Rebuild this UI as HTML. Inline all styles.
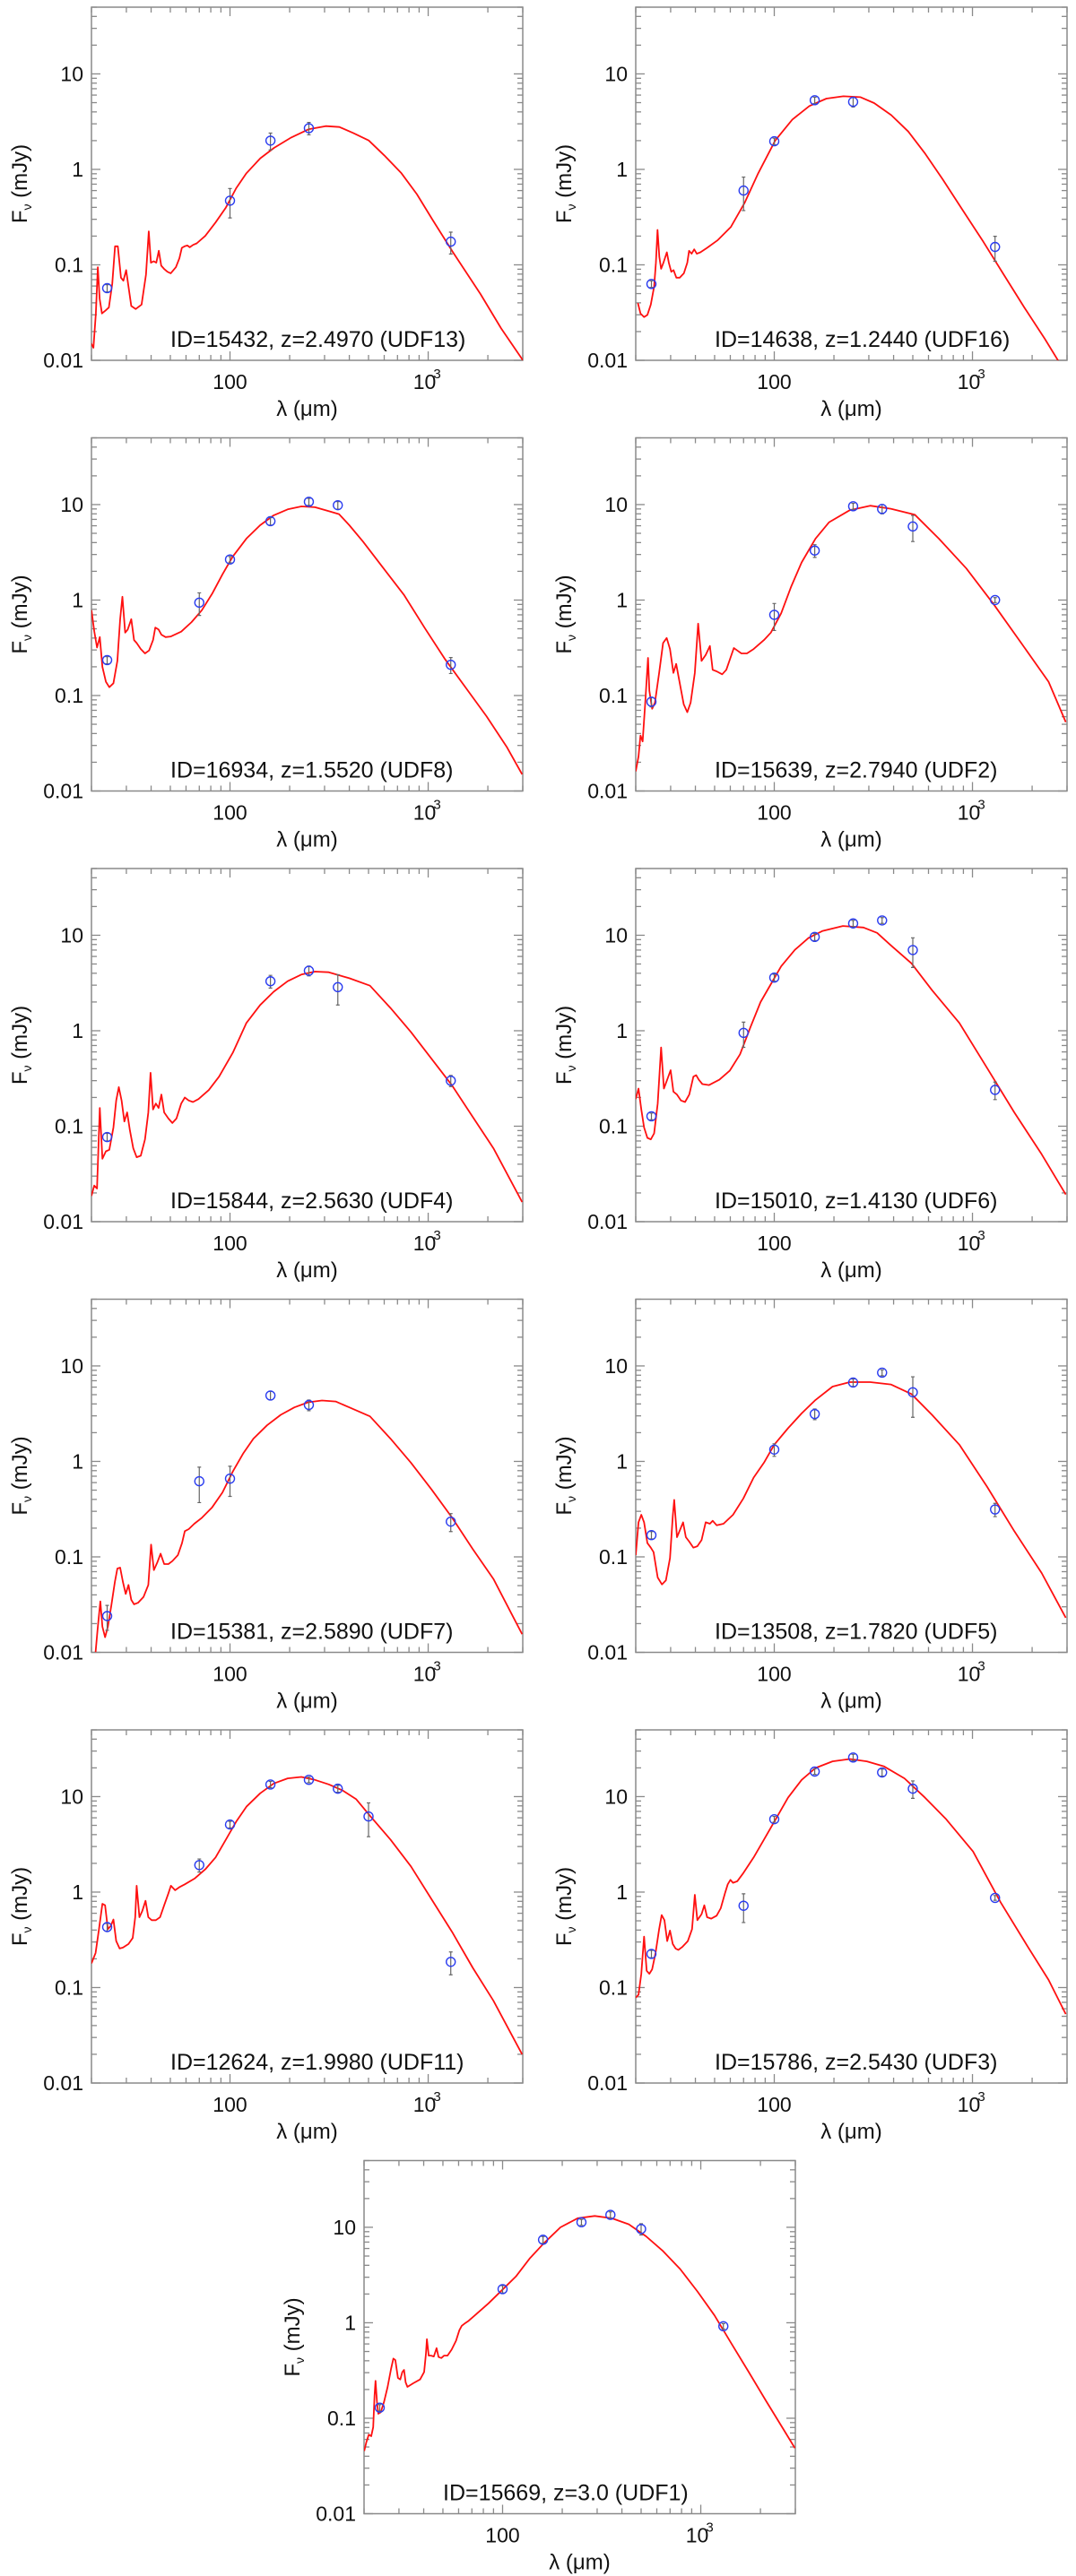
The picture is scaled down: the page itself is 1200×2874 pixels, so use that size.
<!DOCTYPE html>
<html><head><meta charset="utf-8">
<style>
html,body{margin:0;padding:0;background:#fff;}
svg{display:block;font-family:"Liberation Sans",Arial,sans-serif;}
</style></head>
<body>
<svg id="fig" width="1200" height="2874" viewBox="0 0 1200 2874" xmlns="http://www.w3.org/2000/svg">
<rect x="0" y="0" width="1200" height="2874" fill="#fff"/>
</svg>
<script>
// ---- panel metadata ----
const panelLabels = ["ID=15432, z=2.4970 (UDF13)","ID=14638, z=1.2440 (UDF16)","ID=16934, z=1.5520 (UDF8)","ID=15639, z=2.7940 (UDF2)","ID=15844, z=2.5630 (UDF4)","ID=15010, z=1.4130 (UDF6)","ID=15381, z=2.5890 (UDF7)","ID=13508, z=1.7820 (UDF5)","ID=12624, z=1.9980 (UDF11)","ID=15786, z=2.5430 (UDF3)","ID=15669, z=3.0 (UDF1)"];
const panelKeys = ["udf13","udf16","udf8","udf2","udf4","udf6","udf7","udf5","udf11","udf3","udf1"];
const xTickMajor = [100, 1000];
const xTickMinor = [20,30,40,50,60,70,80,90,200,300,400,500,600,700,800,900,2000,3000];
const yTickMajor = [0.01, 0.1, 1, 10];
const yTickLabels = ["0.01","0.1","1","10"];

// ---- observed photometry (lambda um, flux mJy, error mJy) ----
const lamUDF13=[24,100,160,250,1300];
const fluxUDF13=[0.057,0.47,2.0,2.7,0.175];
const errUDF13=[0.005,0.16,0.4,0.4,0.045];
const lamUDF16=[24,70,100,160,250,1300];
const fluxUDF16=[0.063,0.60,1.97,5.3,5.1,0.154];
const errUDF16=[0.005,0.23,0.15,0.4,0.6,0.045];
const lamUDF8=[24,70,100,160,250,350,1300];
const fluxUDF8=[0.235,0.94,2.66,6.7,10.7,9.85,0.21];
const errUDF8=[0.02,0.25,0.2,0.6,0.9,0.9,0.04];
const lamUDF2=[24,100,160,250,350,500,1300];
const fluxUDF2=[0.086,0.70,3.3,9.6,9.0,5.9,1.0];
const errUDF2=[0.01,0.22,0.5,0.7,1.0,1.8,0.06];
const lamUDF4=[24,160,250,350,1300];
const fluxUDF4=[0.077,3.3,4.25,2.86,0.30];
const errUDF4=[0.007,0.5,0.5,1.0,0.04];
const lamUDF6=[24,70,100,160,250,350,500,1300];
const fluxUDF6=[0.127,0.95,3.6,9.6,13.3,14.3,7.0,0.24];
const errUDF6=[0.01,0.28,0.3,0.8,1.0,1.0,2.4,0.05];
const lamUDF7=[24,70,100,160,250,1300];
const fluxUDF7=[0.024,0.62,0.66,4.9,3.9,0.234];
const errUDF7=[0.007,0.25,0.23,0.5,0.5,0.05];
const lamUDF5=[24,100,160,250,350,500,1300];
const fluxUDF5=[0.169,1.33,3.14,6.7,8.5,5.3,0.314];
const errUDF5=[0.015,0.2,0.4,0.6,0.6,2.4,0.05];
const lamUDF11=[24,70,100,160,250,350,500,1300];
const fluxUDF11=[0.43,1.92,5.1,13.4,15.0,12.1,6.2,0.186];
const errUDF11=[0.04,0.3,0.4,1.0,1.0,1.0,2.4,0.05];
const lamUDF3=[24,70,100,160,250,350,500,1300];
const fluxUDF3=[0.225,0.72,5.8,18.3,25.7,17.9,12.1,0.87];
const errUDF3=[0.02,0.24,0.4,1.2,2.0,1.5,2.5,0.05];
const lamUDF1=[24,100,160,250,350,500,1300];
const fluxUDF1=[0.129,2.25,7.4,11.3,13.5,9.6,0.92];
const errUDF1=[0.01,0.2,0.6,0.8,1.0,1.3,0.06];

// ---- model SED curves: [log10 lambda(um), log10 F(mJy)] ----
const curveUDF13=[[1.299,-1.822],[1.311,-1.869],[1.323,-1.509],[1.333,-1.025],[1.342,-1.353],[1.354,-1.509],[1.372,-1.478],[1.389,-1.447],[1.406,-1.197],[1.420,-0.806],[1.434,-0.806],[1.450,-1.134],[1.462,-1.166],[1.476,-1.056],[1.488,-1.228],[1.502,-1.431],[1.524,-1.463],[1.554,-1.416],[1.576,-1.103],[1.590,-0.650],[1.601,-0.978],[1.615,-0.963],[1.628,-0.978],[1.641,-0.853],[1.653,-1.009],[1.667,-1.041],[1.684,-1.072],[1.701,-1.088],[1.727,-1.025],[1.745,-0.931],[1.757,-0.822],[1.771,-0.806],[1.785,-0.797],[1.797,-0.816],[1.814,-0.791],[1.832,-0.775],[1.875,-0.697],[1.927,-0.556],[1.979,-0.400],[2.031,-0.197],[2.083,-0.041],[2.153,0.116],[2.222,0.225],[2.309,0.334],[2.396,0.419],[2.483,0.453],[2.552,0.444],[2.622,0.381],[2.700,0.303],[2.778,0.147],[2.865,-0.041],[2.943,-0.259],[3.021,-0.525],[3.125,-0.869],[3.264,-1.306],[3.368,-1.666],[3.481,-2.009]];
const curveUDF16=[[1.312,-1.400],[1.325,-1.509],[1.343,-1.547],[1.360,-1.525],[1.377,-1.416],[1.394,-1.228],[1.403,-0.978],[1.411,-0.634],[1.420,-0.916],[1.429,-1.041],[1.441,-0.978],[1.458,-0.869],[1.468,-0.978],[1.480,-1.072],[1.492,-1.056],[1.506,-1.134],[1.523,-1.134],[1.544,-1.088],[1.561,-0.978],[1.570,-0.853],[1.583,-0.884],[1.596,-0.838],[1.609,-0.884],[1.627,-0.869],[1.661,-0.822],[1.713,-0.744],[1.781,-0.603],[1.850,-0.353],[1.919,-0.041],[2.005,0.303],[2.091,0.522],[2.177,0.663],[2.263,0.741],[2.349,0.766],[2.435,0.756],[2.504,0.694],[2.590,0.569],[2.676,0.397],[2.762,0.163],[2.849,-0.103],[2.952,-0.431],[3.055,-0.759],[3.158,-1.103],[3.262,-1.447],[3.365,-1.775],[3.434,-2.009],[3.49,-2.2]];
const curveUDF8=[[1.301,-0.106],[1.315,-0.325],[1.329,-0.497],[1.343,-0.388],[1.356,-0.700],[1.374,-0.856],[1.391,-0.913],[1.412,-0.872],[1.432,-0.638],[1.446,-0.200],[1.457,0.034],[1.471,-0.341],[1.484,-0.309],[1.502,-0.200],[1.516,-0.419],[1.529,-0.450],[1.550,-0.513],[1.571,-0.559],[1.592,-0.528],[1.612,-0.419],[1.623,-0.288],[1.640,-0.309],[1.654,-0.363],[1.675,-0.388],[1.702,-0.381],[1.754,-0.331],[1.806,-0.231],[1.858,-0.106],[1.910,0.066],[1.962,0.269],[2.014,0.456],[2.083,0.644],[2.152,0.784],[2.221,0.888],[2.291,0.950],[2.360,0.981],[2.429,0.972],[2.498,0.931],[2.550,0.900],[2.602,0.784],[2.671,0.613],[2.775,0.331],[2.879,0.050],[2.983,-0.294],[3.086,-0.622],[3.190,-0.919],[3.294,-1.216],[3.398,-1.544],[3.474,-1.825]];
const curveUDF2=[[1.301,-1.794],[1.315,-1.638],[1.325,-1.419],[1.336,-1.481],[1.349,-1.075],[1.363,-0.606],[1.370,-0.950],[1.384,-1.138],[1.398,-1.075],[1.419,-0.763],[1.439,-0.450],[1.457,-0.397],[1.474,-0.513],[1.491,-0.763],[1.505,-0.669],[1.522,-0.856],[1.543,-1.091],[1.561,-1.175],[1.578,-1.075],[1.599,-0.763],[1.616,-0.247],[1.633,-0.638],[1.654,-0.575],[1.675,-0.481],[1.689,-0.731],[1.709,-0.747],[1.737,-0.778],[1.758,-0.731],[1.779,-0.606],[1.796,-0.503],[1.813,-0.528],[1.834,-0.559],[1.862,-0.559],[1.896,-0.513],[1.948,-0.419],[1.983,-0.341],[2.035,-0.138],[2.086,0.144],[2.138,0.394],[2.208,0.644],[2.277,0.816],[2.381,0.941],[2.484,0.988],[2.588,0.956],[2.709,0.894],[2.830,0.644],[2.969,0.331],[3.107,-0.044],[3.246,-0.450],[3.384,-0.856],[3.471,-1.278]];
const curveUDF4=[[1.301,-1.731],[1.315,-1.622],[1.329,-1.653],[1.343,-0.809],[1.356,-1.341],[1.374,-1.263],[1.391,-1.247],[1.412,-1.013],[1.426,-0.731],[1.439,-0.591],[1.453,-0.731],[1.467,-0.950],[1.481,-0.856],[1.495,-1.044],[1.512,-1.231],[1.529,-1.325],[1.550,-1.309],[1.571,-1.138],[1.588,-0.856],[1.599,-0.441],[1.612,-0.825],[1.626,-0.763],[1.640,-0.809],[1.654,-0.669],[1.668,-0.856],[1.689,-0.919],[1.709,-0.966],[1.730,-0.919],[1.754,-0.763],[1.772,-0.700],[1.792,-0.731],[1.813,-0.747],[1.841,-0.716],[1.893,-0.622],[1.945,-0.481],[2.014,-0.231],[2.083,0.081],[2.152,0.269],[2.221,0.409],[2.291,0.519],[2.360,0.588],[2.429,0.619],[2.498,0.613],[2.602,0.550],[2.706,0.472],[2.810,0.238],[2.913,-0.013],[3.017,-0.294],[3.121,-0.575],[3.225,-0.903],[3.329,-1.231],[3.474,-1.794]];
const curveUDF6=[[1.301,-0.716],[1.315,-0.606],[1.329,-0.825],[1.343,-1.013],[1.360,-1.122],[1.377,-1.138],[1.394,-1.075],[1.412,-0.763],[1.429,-0.175],[1.443,-0.606],[1.460,-0.513],[1.477,-0.413],[1.491,-0.638],[1.509,-0.669],[1.529,-0.731],[1.550,-0.747],[1.571,-0.669],[1.592,-0.481],[1.606,-0.466],[1.619,-0.513],[1.637,-0.559],[1.671,-0.569],[1.723,-0.513],[1.775,-0.419],[1.827,-0.247],[1.879,0.034],[1.931,0.300],[1.983,0.488],[2.035,0.675],[2.104,0.847],[2.173,0.972],[2.242,1.044],[2.346,1.097],[2.450,1.081],[2.519,1.025],[2.588,0.894],[2.692,0.706],[2.796,0.425],[2.934,0.081],[3.073,-0.388],[3.211,-0.856],[3.349,-1.294],[3.471,-1.716]];
const curveUDF7=[[1.322,-1.997],[1.332,-1.763],[1.346,-1.466],[1.356,-1.731],[1.370,-1.841],[1.384,-1.731],[1.401,-1.513],[1.419,-1.263],[1.432,-1.122],[1.446,-1.113],[1.460,-1.263],[1.474,-1.388],[1.488,-1.294],[1.502,-1.450],[1.516,-1.497],[1.536,-1.481],[1.564,-1.419],[1.588,-1.294],[1.602,-0.872],[1.616,-1.138],[1.633,-1.059],[1.650,-0.966],[1.668,-1.075],[1.689,-1.075],[1.709,-1.044],[1.737,-0.981],[1.758,-0.856],[1.772,-0.731],[1.792,-0.709],[1.820,-0.653],[1.858,-0.591],[1.910,-0.481],[1.962,-0.325],[2.014,-0.106],[2.066,0.081],[2.118,0.238],[2.187,0.378],[2.256,0.488],[2.325,0.566],[2.394,0.619],[2.464,0.638],[2.533,0.628],[2.602,0.566],[2.706,0.472],[2.810,0.238],[2.913,-0.013],[3.017,-0.294],[3.121,-0.591],[3.225,-0.919],[3.329,-1.231],[3.474,-1.809]];
const curveUDF5=[[1.301,-0.981],[1.315,-0.638],[1.329,-0.559],[1.343,-0.638],[1.360,-0.856],[1.377,-0.903],[1.391,-0.950],[1.412,-1.216],[1.433,-1.288],[1.453,-1.247],[1.474,-1.013],[1.488,-0.575],[1.495,-0.403],[1.509,-0.794],[1.522,-0.731],[1.540,-0.638],[1.554,-0.794],[1.571,-0.841],[1.592,-0.903],[1.612,-0.888],[1.633,-0.825],[1.654,-0.638],[1.675,-0.653],[1.689,-0.622],[1.709,-0.669],[1.744,-0.653],[1.792,-0.559],[1.844,-0.388],[1.896,-0.169],[1.948,-0.013],[2.000,0.175],[2.069,0.347],[2.138,0.503],[2.208,0.644],[2.294,0.784],[2.381,0.831],[2.484,0.831],[2.588,0.806],[2.692,0.706],[2.796,0.488],[2.934,0.175],[3.073,-0.263],[3.211,-0.731],[3.349,-1.169],[3.471,-1.638]];
const curveUDF11=[[1.301,-0.747],[1.322,-0.638],[1.339,-0.388],[1.356,-0.122],[1.370,-0.138],[1.384,-0.388],[1.398,-0.356],[1.412,-0.288],[1.426,-0.513],[1.443,-0.591],[1.460,-0.581],[1.488,-0.544],[1.509,-0.481],[1.522,-0.263],[1.529,0.066],[1.543,-0.263],[1.557,-0.200],[1.574,-0.091],[1.588,-0.263],[1.605,-0.294],[1.626,-0.294],[1.647,-0.263],[1.668,-0.138],[1.689,-0.013],[1.702,0.066],[1.723,0.019],[1.744,0.050],[1.772,0.081],[1.823,0.144],[1.875,0.238],[1.927,0.363],[1.979,0.550],[2.031,0.738],[2.083,0.894],[2.152,1.034],[2.221,1.138],[2.291,1.191],[2.360,1.206],[2.429,1.175],[2.498,1.128],[2.567,1.066],[2.637,0.972],[2.706,0.800],[2.810,0.550],[2.913,0.269],[3.017,-0.075],[3.121,-0.419],[3.225,-0.794],[3.329,-1.138],[3.474,-1.700]];
const curveUDF3=[[1.301,-1.106],[1.315,-1.075],[1.329,-0.856],[1.343,-0.466],[1.356,-0.825],[1.370,-0.856],[1.384,-0.809],[1.401,-0.638],[1.419,-0.388],[1.432,-0.241],[1.446,-0.294],[1.460,-0.513],[1.474,-0.403],[1.488,-0.544],[1.502,-0.591],[1.516,-0.606],[1.536,-0.575],[1.564,-0.513],[1.585,-0.388],[1.599,-0.028],[1.612,-0.294],[1.633,-0.231],[1.647,-0.138],[1.661,-0.263],[1.682,-0.278],[1.709,-0.247],[1.730,-0.169],[1.751,-0.013],[1.765,0.081],[1.779,0.128],[1.792,0.097],[1.813,0.113],[1.841,0.191],[1.896,0.363],[1.948,0.550],[2.000,0.738],[2.069,0.988],[2.138,1.175],[2.208,1.300],[2.294,1.369],[2.381,1.394],[2.467,1.369],[2.554,1.316],[2.657,1.191],[2.761,0.988],[2.865,0.769],[3.003,0.425],[3.142,-0.106],[3.280,-0.575],[3.384,-0.919],[3.471,-1.278]];
const curveUDF1=[[1.302,-1.344],[1.313,-1.250],[1.325,-1.172],[1.337,-1.188],[1.347,-1.094],[1.354,-0.766],[1.359,-0.609],[1.366,-0.828],[1.373,-0.953],[1.385,-0.938],[1.402,-0.828],[1.420,-0.672],[1.437,-0.484],[1.449,-0.375],[1.459,-0.391],[1.472,-0.578],[1.484,-0.594],[1.494,-0.516],[1.503,-0.494],[1.511,-0.625],[1.520,-0.672],[1.549,-0.634],[1.584,-0.594],[1.604,-0.516],[1.613,-0.328],[1.618,-0.172],[1.627,-0.344],[1.639,-0.344],[1.653,-0.353],[1.667,-0.266],[1.677,-0.359],[1.691,-0.369],[1.705,-0.344],[1.722,-0.344],[1.743,-0.281],[1.765,-0.188],[1.782,-0.078],[1.794,-0.031],[1.808,-0.009],[1.826,0.016],[1.860,0.078],[1.929,0.203],[1.998,0.344],[2.067,0.484],[2.136,0.672],[2.206,0.828],[2.292,1.000],[2.378,1.094],[2.465,1.119],[2.551,1.094],[2.637,1.031],[2.724,0.906],[2.810,0.750],[2.896,0.563],[2.983,0.328],[3.069,0.078],[3.155,-0.219],[3.242,-0.516],[3.328,-0.813],[3.415,-1.109],[3.475,-1.313]];

const curves=[curveUDF13,curveUDF16,curveUDF8,curveUDF2,curveUDF4,curveUDF6,curveUDF7,curveUDF5,curveUDF11,curveUDF3,curveUDF1];
const lams=[lamUDF13,lamUDF16,lamUDF8,lamUDF2,lamUDF4,lamUDF6,lamUDF7,lamUDF5,lamUDF11,lamUDF3,lamUDF1];
const fluxes=[fluxUDF13,fluxUDF16,fluxUDF8,fluxUDF2,fluxUDF4,fluxUDF6,fluxUDF7,fluxUDF5,fluxUDF11,fluxUDF3,fluxUDF1];
const errs=[errUDF13,errUDF16,errUDF8,errUDF2,errUDF4,errUDF6,errUDF7,errUDF5,errUDF11,errUDF3,errUDF1];

const XMIN=20, XMAX=3000, YMIN=0.01, YMAX=50;
const PW=481, PH=394;
const NS="http://www.w3.org/2000/svg";
const svg=document.getElementById('fig');
function mk(tag,attrs,parent){const e=document.createElementNS(NS,tag);for(const k in attrs)e.setAttribute(k,attrs[k]);(parent||svg).appendChild(e);return e;}

for(let p=0;p<11;p++){
  const L = p<10 ? (p%2===0?102:709) : 406;
  const T = 8 + 480.5*Math.floor(p/2);
  const B = T+PH, R = L+PW;
  const xs = lg => L + (lg-Math.log10(XMIN))/Math.log10(XMAX/XMIN)*PW;
  const ys = lg => B - (lg-Math.log10(YMIN))/Math.log10(YMAX/YMIN)*PH;
  const g=mk('g',{});
  
  
  const clipId='clip'+p;
  const cp=mk('clipPath',{id:clipId},g);
  mk('rect',{x:L,y:T,width:PW,height:PH},cp);
  // ticks
  const tg=mk('g',{stroke:'#8a8a8a','stroke-width':1.3},g);
  
  
  xTickMajor.forEach(v=>{const x=xs(Math.log10(v));mk('line',{x1:x,x2:x,y1:B,y2:B-10},tg);mk('line',{x1:x,x2:x,y1:T,y2:T+10},tg);});
  xTickMinor.forEach(v=>{const x=xs(Math.log10(v));mk('line',{x1:x,x2:x,y1:B,y2:B-6},tg);mk('line',{x1:x,x2:x,y1:T,y2:T+6},tg);});
  for(let d=-2;d<=1;d++){for(let m=1;m<=9;m++){const v=m*Math.pow(10,d);if(v>YMAX)break;const y=ys(Math.log10(v));const len=m===1?10:6;mk('line',{x1:L,x2:L+len,y1:y,y2:y},tg);mk('line',{x1:R,x2:R-len,y1:y,y2:y},tg);}}
  // frame
  const fr=mk('rect',{x:L,y:T,width:PW,height:PH,fill:'none',stroke:'#8a8a8a','stroke-width':1.5},g);
  
  
  // y tick labels
  yTickMajor.forEach((v,i)=>{const t=mk('text',{x:L-9,y:ys(Math.log10(v))+8,'text-anchor':'end','font-size':23,fill:'#111'},g);t.textContent=yTickLabels[i];
    
    });
  // x tick labels
  let t1=mk('text',{x:xs(2),y:B+32,'text-anchor':'middle','font-size':23,fill:'#111'},g);t1.textContent='100';
  
  
  let t2=mk('text',{x:xs(3)-4,y:B+32,'text-anchor':'middle','font-size':23,fill:'#111'},g);t2.textContent='10';
  
  
  let t3=mk('text',{x:xs(3)+10,y:B+20,'text-anchor':'middle','font-size':15,fill:'#111'},g);t3.textContent='3';
  
  
  // axis titles
  let xt=mk('text',{x:L+PW/2,y:B+62,'text-anchor':'middle','font-size':24,fill:'#111'},g);xt.textContent='λ (μm)';
  
  
  const cy=T+PH/2, cx=L-80;
  let yt=mk('text',{x:cx,y:cy+8,'text-anchor':'middle','font-size':24,fill:'#111',transform:`rotate(-90 ${cx} ${cy})`},g);
  
  
  const ts1=mk('tspan',{},yt);ts1.textContent='F';
  const ts2=mk('tspan',{'font-size':14,dy:5},yt);ts2.textContent='ν';
  const ts3=mk('tspan',{dy:-5},yt);ts3.textContent=' (mJy)';
  // curve
  const c=curves[p];
  let d='';c.forEach((pt,i)=>{d+=(i?'L':'M')+xs(pt[0]).toFixed(1)+','+ys(pt[1]).toFixed(1);});
  const path=mk('path',{d:d,fill:'none',stroke:'#ff1010','stroke-width':1.8,'stroke-linejoin':'round','clip-path':`url(#${clipId})`},g);
  
  
  // data points
  const lm=lams[p], fl=fluxes[p], er=errs[p];
  for(let i=0;i<lm.length;i++){
    const x=xs(Math.log10(lm[i])), y=ys(Math.log10(fl[i]));
    const yu=ys(Math.log10(fl[i]+er[i])), yl=ys(Math.log10(Math.max(fl[i]-er[i],fl[i]*0.05)));
    const eb=mk('path',{d:`M${x},${yu}L${x},${yl}M${x-2},${yu}L${x+2},${yu}M${x-2},${yl}L${x+2},${yl}`,stroke:'#666','stroke-width':1.2,fill:'none'},g);
    
    
    const ci=mk('circle',{cx:x,cy:y,r:5,fill:'none',stroke:'#2a3cf0','stroke-width':1.4},g);
    
    
  }
  // label
  const lb=mk('text',{x:L+88,y:B-15,'font-size':25,fill:'#111'},g);lb.textContent=panelLabels[p];
  
  
}
</script>
</body></html>
